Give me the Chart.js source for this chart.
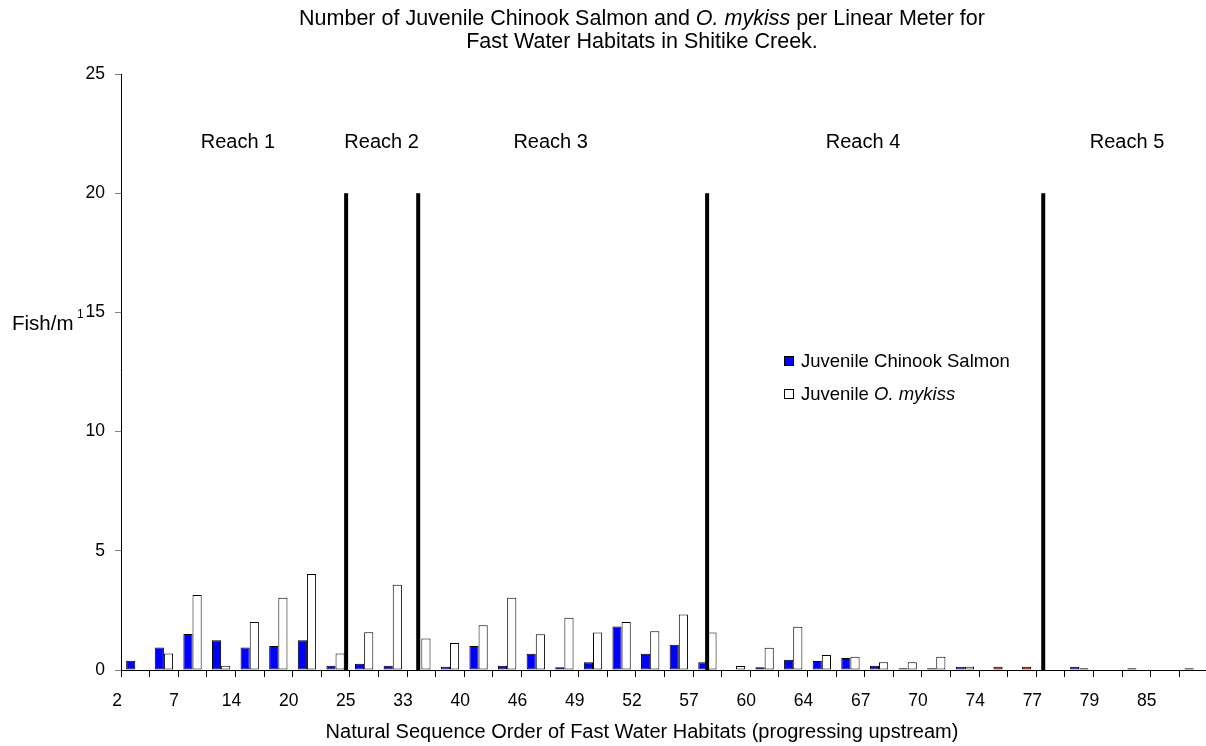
<!DOCTYPE html>
<html>
<head>
<meta charset="utf-8">
<title>Shitike Creek - fish per linear meter</title>
<script src="https://cdn.jsdelivr.net/npm/chart.js@4.4.1/dist/chart.umd.min.js"></script>
<style>
  html, body { margin: 0; padding: 0; background: #ffffff; overflow: hidden; }
  #wrap { position: relative; width: 1210px; height: 746px; }
</style>
</head>
<body>
<div id="wrap"><canvas id="fishChart"></canvas></div>
<script>
// habitat numbers, printed under every second unit
const habitatLabels = ["2", "7", "14", "20", "25", "33", "40", "46", "49", "52",
                       "57", "60", "64", "67", "70", "74", "77", "79", "85"];

// fish per meter, one value per fast water unit (38 units)
const chinook = [0.39, 0.94, 1.51, 1.25, 0.94, 1.01, 1.25, 0.18, 0.26, 0.18,
                 0, 0.14, 1.01, 0.18, 0.68, 0.12, 0.32, 1.82, 0.68, 1.06,
                 0.32, 0, 0.12, 0.43, 0.38, 0.5, 0.18, 0.07, 0.07, 0.14,
                 0, 0, 0, 0.14, 0, 0.07, 0, 0.07];
const mykiss = [0, 0.69, 3.15, 0.18, 2.01, 3.03, 4.03, 0.69, 1.58, 3.58,
                1.32, 1.13, 1.88, 3.03, 1.5, 2.19, 1.57, 2.01, 1.63, 2.33,
                1.57, 0.17, 0.93, 1.81, 0.63, 0.56, 0.32, 0.32, 0.56, 0.14,
                0.14, 0.14, 0, 0.07, 0, 0, 0, 0];
// units where the O. mykiss bar is filled red
const redUnits = [30, 31];

// reach boundaries and reach name positions, in units from the y axis
const reachBreaks = [7.87, 10.39, 20.49, 32.24];
const reachBreakTop = 20;
const reachNames = ["Reach 1", "Reach 2", "Reach 3", "Reach 4", "Reach 5"];
const reachCenters = [4.09, 9.11, 15.02, 25.94, 35.17];
const reachNameLevel = 22.2;

const yTicks = [0, 5, 10, 15, 20, 25];

const FONT = '"Liberation Sans", Arial, sans-serif';
const unitCount = chinook.length;
const units = chinook.map((_, i) => i);

// draws a line made of plain and italic pieces
function drawRich(ctx, parts, x, y, size, align) {
  let total = 0;
  parts.forEach(p => {
    ctx.font = (p[1] ? 'italic ' : '') + size + 'px ' + FONT;
    total += ctx.measureText(p[0]).width;
  });
  let cx = align === 'center' ? x - total / 2 : x;
  ctx.textAlign = 'left';
  ctx.textBaseline = 'alphabetic';
  parts.forEach(p => {
    ctx.font = (p[1] ? 'italic ' : '') + size + 'px ' + FONT;
    ctx.fillText(p[0], cx, y);
    cx += ctx.measureText(p[0]).width;
  });
}

const decorations = {
  id: 'decorations',
  beforeDraw(chart) {
    const ctx = chart.ctx;
    ctx.save();
    ctx.fillStyle = '#ffffff';
    ctx.fillRect(0, 0, chart.width, chart.height);
    ctx.restore();
  },
  afterDatasetsDraw(chart) {
    const ctx = chart.ctx;
    const xs = chart.scales.xl;
    const ys = chart.scales.y;
    ctx.save();

    // reach dividers
    ctx.fillStyle = '#000000';
    reachBreaks.forEach(b => {
      const px = xs.getPixelForValue(b);
      const top = ys.getPixelForValue(reachBreakTop);
      const bottom = ys.getPixelForValue(0);
      ctx.fillRect(px - 2, top, 4, bottom - top);
    });

    // reach names
    ctx.font = '20px ' + FONT;
    ctx.textAlign = 'center';
    ctx.textBaseline = 'alphabetic';
    reachNames.forEach((n, i) => {
      ctx.fillText(n, xs.getPixelForValue(reachCenters[i]), ys.getPixelForValue(reachNameLevel) + 7);
    });

    // title
    ctx.fillStyle = '#000000';
    drawRich(ctx, [["Number of Juvenile Chinook Salmon and ", false], ["O. mykiss", true], [" per Linear Meter for", false]], 642, 25, 21.5, 'center');
    drawRich(ctx, [["Fast Water Habitats in Shitike Creek.", false]], 642, 48, 21.5, 'center');

    // axis titles
    drawRich(ctx, [["Natural Sequence Order of Fast Water Habitats (progressing upstream)", false]], 642, 738, 20, 'center');
    drawRich(ctx, [["Fish/m", false]], 12, 330, 20.5, 'left');
    drawRich(ctx, [["1", false]], 77, 318, 12, 'left');

    // legend
    const ds = chart.data.datasets;
    const rows = [
      { y: 356, fill: ds[0].legendColor, parts: [["Juvenile Chinook Salmon", false]] },
      { y: 389, fill: ds[1].legendColor, parts: [["Juvenile ", false], ["O. mykiss", true]] }
    ];
    rows.forEach(r => {
      ctx.fillStyle = r.fill;
      ctx.fillRect(784.5, r.y + 0.5, 9, 9);
      ctx.strokeStyle = '#000000';
      ctx.lineWidth = 1;
      ctx.strokeRect(784.5, r.y + 0.5, 9, 9);
      ctx.fillStyle = '#000000';
      drawRich(ctx, r.parts, 801, r.y + 10.5, 18.5, 'left');
    });

    ctx.restore();
  }
};

Chart.defaults.font.family = FONT;
Chart.defaults.color = '#000000';

new Chart(document.getElementById('fishChart'), {
  type: 'bar',
  data: {
    labels: units,
    datasets: [{
      label: 'Juvenile Chinook Salmon',
      data: chinook,
      backgroundColor: '#0000ff',
      legendColor: '#0000ff',
      borderColor: '#000000',
      borderWidth: 1,
      borderSkipped: false,
      categoryPercentage: 0.64,
      barPercentage: 1.0
    }, {
      label: 'Juvenile O. mykiss',
      data: mykiss,
      backgroundColor: mykiss.map((_, i) => redUnits.includes(i) ? '#ff0000' : '#ffffff'),
      legendColor: '#ffffff',
      borderColor: '#000000',
      borderWidth: 1,
      borderSkipped: false,
      categoryPercentage: 0.64,
      barPercentage: 1.0
    }]
  },
  options: {
    responsive: true,
    maintainAspectRatio: false,
    animation: false,
    layout: { padding: { left: 0, right: 2, top: 74, bottom: 0 } },
    plugins: {
      legend: { display: false },
      title: { display: false },
      tooltip: { enabled: false }
    },
    scales: {
      x: {
        type: 'category',
        display: false,
        offset: true
      },
      // unit boundaries: tick marks between units, habitat numbers on every second one
      xl: {
        type: 'linear',
        position: 'bottom',
        min: 0,
        max: unitCount,
        offset: false,
        afterFit(scale) {
          scale.height = 76;
          scale.paddingLeft = 0;
          scale.paddingRight = 0;
        },
        grid: {
          offset: false,
          drawOnChartArea: false,
          drawTicks: true,
          tickLength: 7,
          color: '#000000'
        },
        border: { color: '#000000', width: 1 },
        ticks: {
          stepSize: 1,
          autoSkip: false,
          maxRotation: 0,
          labelOffset: -4,
          padding: 14,
          font: { size: 17.5 },
          callback: v => (v % 2 === 0 && habitatLabels[v / 2] !== undefined) ? habitatLabels[v / 2] : ''
        }
      },
      y: {
        min: 0,
        max: 25,
        afterFit(scale) { scale.width = 121; },
        afterBuildTicks(scale) { scale.ticks = yTicks.map(v => ({ value: v })); },
        grid: {
          drawOnChartArea: false,
          drawTicks: true,
          tickLength: 6,
          color: '#808080'
        },
        border: { color: '#000000', width: 1 },
        ticks: {
          padding: 10,
          font: { size: 17.5 }
        }
      }
    }
  },
  plugins: [decorations]
});
</script>
</body>
</html>
